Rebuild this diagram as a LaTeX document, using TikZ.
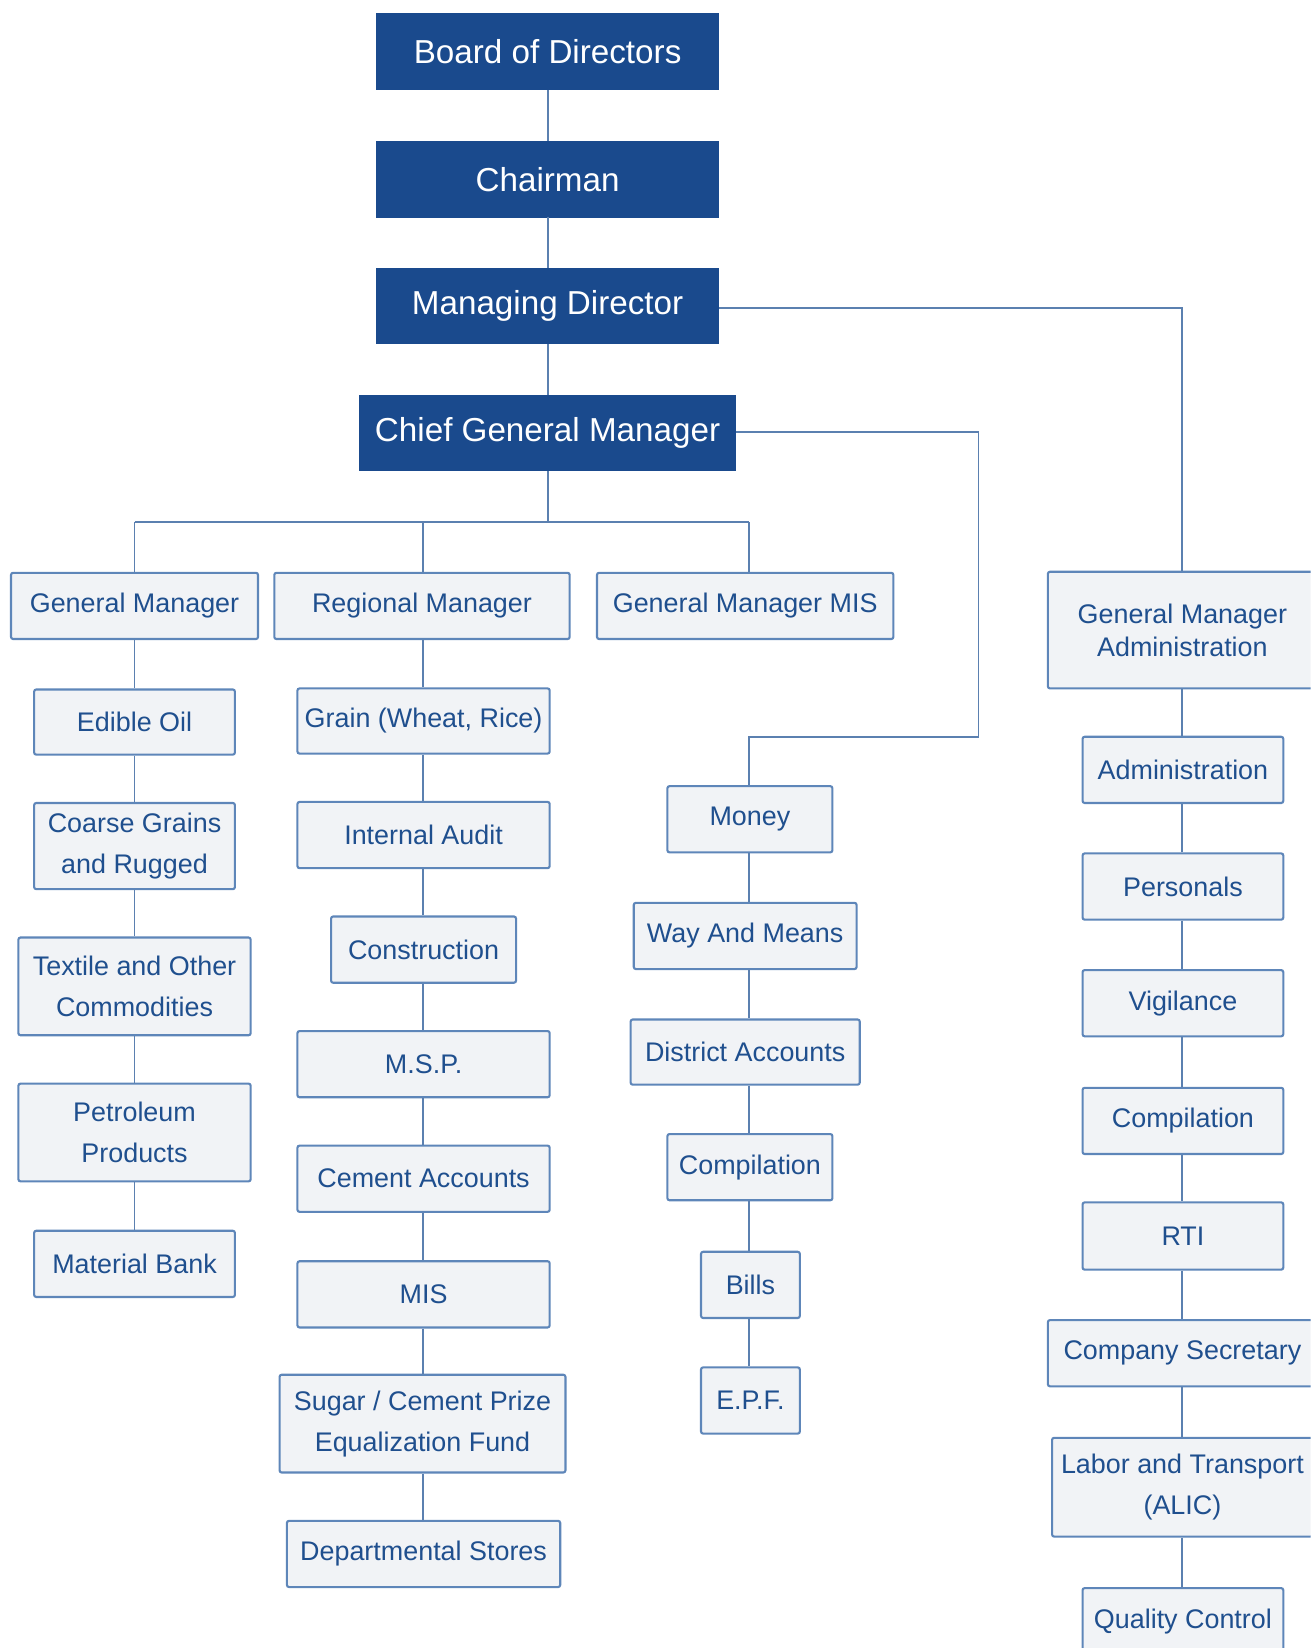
\documentclass[tikz,border=0pt]{standalone}
\usepackage{fontspec}
\setmainfont{Liberation Sans}
\definecolor{darkblue}{HTML}{1A4A8D}
\definecolor{boxfill}{HTML}{F1F3F6}
\definecolor{boxline}{HTML}{5E86B9}
\definecolor{boxtext}{HTML}{1F4F8E}
\definecolor{connc}{HTML}{5B80B0}
\begin{document}
\begin{tikzpicture}[x=0.5pt,y=-0.5pt,
 dbox/.style={fill=darkblue, draw=darkblue, text=white, font=\fontsize{15.8}{19}\selectfont, inner sep=0pt, align=center, minimum width=163pt, minimum height=36pt},
 lbox/.style={fill=boxfill, draw=boxline, line width=1pt, rounded corners=1pt, text=boxtext, font=\fontsize{12.8}{19.5}\selectfont, inner sep=0pt, align=center, minimum height=31.5pt},
 conn/.style={draw=connc, line width=0.9pt}]
\useasboundingbox (0,0) rectangle (1247,1568);
\begin{scope}
\clip (0,0) rectangle (1247,1568);
% column coordinates
\coordinate (c0) at (521,0);
\coordinate (c1) at (128,0);
\coordinate (c2) at (402.5,0);
\coordinate (c3) at (713,0);
\coordinate (c4) at (1125,0);
% top chain
\node[dbox] (bod) at (521,49) {Board of Directors};
\node[dbox] (chair) at (521,170.5) {Chairman};
\node[dbox] (md) at (521,291) {Managing Director};
\node[dbox, minimum width=179pt] (cgm) at (521,412) {Chief General Manager};
% column 1
\node[lbox, minimum width=117.5pt] (gm) at (128,576.5) {General Manager};
\node[lbox, minimum width=95.5pt, minimum height=31pt] (edible) at (128,687) {Edible Oil};
\node[lbox, minimum width=95.5pt, minimum height=41pt] (coarse) at (128,805) {Coarse Grains\\and Rugged};
\node[lbox, minimum width=110.5pt, minimum height=46.5pt] (textile) at (128,938.5) {Textile and Other\\Commodities};
\node[lbox, minimum width=110.5pt, minimum height=46.5pt] (petrol) at (128,1077.5) {Petroleum\\Products};
\node[lbox, minimum width=95.5pt] (matbank) at (128,1202.5) {Material Bank};
% column 2
\node[lbox, minimum width=140.5pt] (rm) at (401.5,576.5) {Regional Manager};
\node[lbox, minimum width=120pt, minimum height=31pt] (grain) at (403,686) {Grain (Wheat, Rice)};
\node[lbox, minimum width=120pt] (audit) at (403,794.5) {Internal Audit};
\node[lbox, minimum width=88pt] (constr) at (403,903.5) {Construction};
\node[lbox, minimum width=120pt] (msp) at (403,1012.5) {M.S.P.};
\node[lbox, minimum width=120pt] (cement) at (403,1121.5) {Cement Accounts};
\node[lbox, minimum width=120pt] (mis) at (403,1231.5) {MIS};
\node[lbox, minimum width=136pt, minimum height=46.5pt] (sugar) at (402,1354.5) {Sugar / Cement Prize\\Equalization Fund};
\node[lbox, minimum width=130pt] (dept) at (403,1478.5) {Departmental Stores};
% column 3
\node[lbox, minimum width=141pt] (gmmis) at (709,576.5) {General Manager MIS};
\node[lbox, minimum width=78.5pt] (money) at (713.5,779.5) {Money};
\node[lbox, minimum width=106pt] (way) at (709,890.5) {Way And Means};
\node[lbox, minimum width=109pt, minimum height=31pt] (district) at (709,1001) {District Accounts};
\node[lbox, minimum width=78.5pt] (comp3) at (713.5,1110.5) {Compilation};
\node[lbox, minimum width=47pt] (bills) at (714,1222.5) {Bills};
\node[lbox, minimum width=47pt] (epf) at (714,1332.5) {E.P.F.};
% column 4
\node[lbox, minimum width=128pt, minimum height=55.5pt, font=\fontsize{12.8}{15.5}\selectfont] (gmadmin) at (1125,599.5) {General Manager\\Administration};
\node[lbox, minimum width=95.5pt] (admin) at (1125.5,732.5) {Administration};
\node[lbox, minimum width=95.5pt] (pers) at (1125.5,843.5) {Personals};
\node[lbox, minimum width=95.5pt] (vig) at (1125.5,954.5) {Vigilance};
\node[lbox, minimum width=95.5pt] (comp4) at (1125.5,1066.5) {Compilation};
\node[lbox, minimum width=95.5pt, minimum height=32pt] (rti) at (1125.5,1176) {RTI};
\node[lbox, minimum width=128pt] (compsec) at (1125,1287.5) {Company Secretary};
\node[lbox, minimum width=124pt, minimum height=47pt] (labor) at (1125,1415) {Labor and Transport\\(ALIC)};
\node[lbox, minimum width=95.5pt] (qc) at (1125.5,1542.5) {Quality Control};
% connectors: top chain
\draw[conn] (bod.south) -- (chair.north);
\draw[conn] (chair.south) -- (md.north);
\draw[conn] (md.south) -- (cgm.north);
% bus
\coordinate (bus) at (521,497);
\draw[conn] (cgm.south) -- (bus);
\draw[conn] (c1 |- bus) -- (c3 |- bus);
\draw[conn] (c1 |- bus) -- (c1 |- gm.north);
\draw[conn] (c2 |- bus) -- (c2 |- rm.north);
\draw[conn] (c3 |- bus) -- (c3 |- gmmis.north);
% side branches
\coordinate (mdr) at (1125,293);
\draw[conn] (md.east |- mdr) -- (mdr) -- (c4 |- gmadmin.north);
\coordinate (cgmr) at (931,411);
\coordinate (cgmd) at (931,701);
\draw[conn] (cgm.east |- cgmr) -- (cgmr) -- (cgmd) -- (c3 |- cgmd) -- (c3 |- money.north);
% column 1 chain
\draw[conn] (c1 |- gm.south) -- (c1 |- edible.north);
\draw[conn] (c1 |- edible.south) -- (c1 |- coarse.north);
\draw[conn] (c1 |- coarse.south) -- (c1 |- textile.north);
\draw[conn] (c1 |- textile.south) -- (c1 |- petrol.north);
\draw[conn] (c1 |- petrol.south) -- (c1 |- matbank.north);
% column 2 chain
\draw[conn] (c2 |- rm.south) -- (c2 |- grain.north);
\draw[conn] (c2 |- grain.south) -- (c2 |- audit.north);
\draw[conn] (c2 |- audit.south) -- (c2 |- constr.north);
\draw[conn] (c2 |- constr.south) -- (c2 |- msp.north);
\draw[conn] (c2 |- msp.south) -- (c2 |- cement.north);
\draw[conn] (c2 |- cement.south) -- (c2 |- mis.north);
\draw[conn] (c2 |- mis.south) -- (c2 |- sugar.north);
\draw[conn] (c2 |- sugar.south) -- (c2 |- dept.north);
% column 3 chain
\draw[conn] (c3 |- money.south) -- (c3 |- way.north);
\draw[conn] (c3 |- way.south) -- (c3 |- district.north);
\draw[conn] (c3 |- district.south) -- (c3 |- comp3.north);
\draw[conn] (c3 |- comp3.south) -- (c3 |- bills.north);
\draw[conn] (c3 |- bills.south) -- (c3 |- epf.north);
% column 4 chain
\draw[conn] (c4 |- gmadmin.south) -- (c4 |- admin.north);
\draw[conn] (c4 |- admin.south) -- (c4 |- pers.north);
\draw[conn] (c4 |- pers.south) -- (c4 |- vig.north);
\draw[conn] (c4 |- vig.south) -- (c4 |- comp4.north);
\draw[conn] (c4 |- comp4.south) -- (c4 |- rti.north);
\draw[conn] (c4 |- rti.south) -- (c4 |- compsec.north);
\draw[conn] (c4 |- compsec.south) -- (c4 |- labor.north);
\draw[conn] (c4 |- labor.south) -- (c4 |- qc.north);
\end{scope}
\end{tikzpicture}
\end{document}
